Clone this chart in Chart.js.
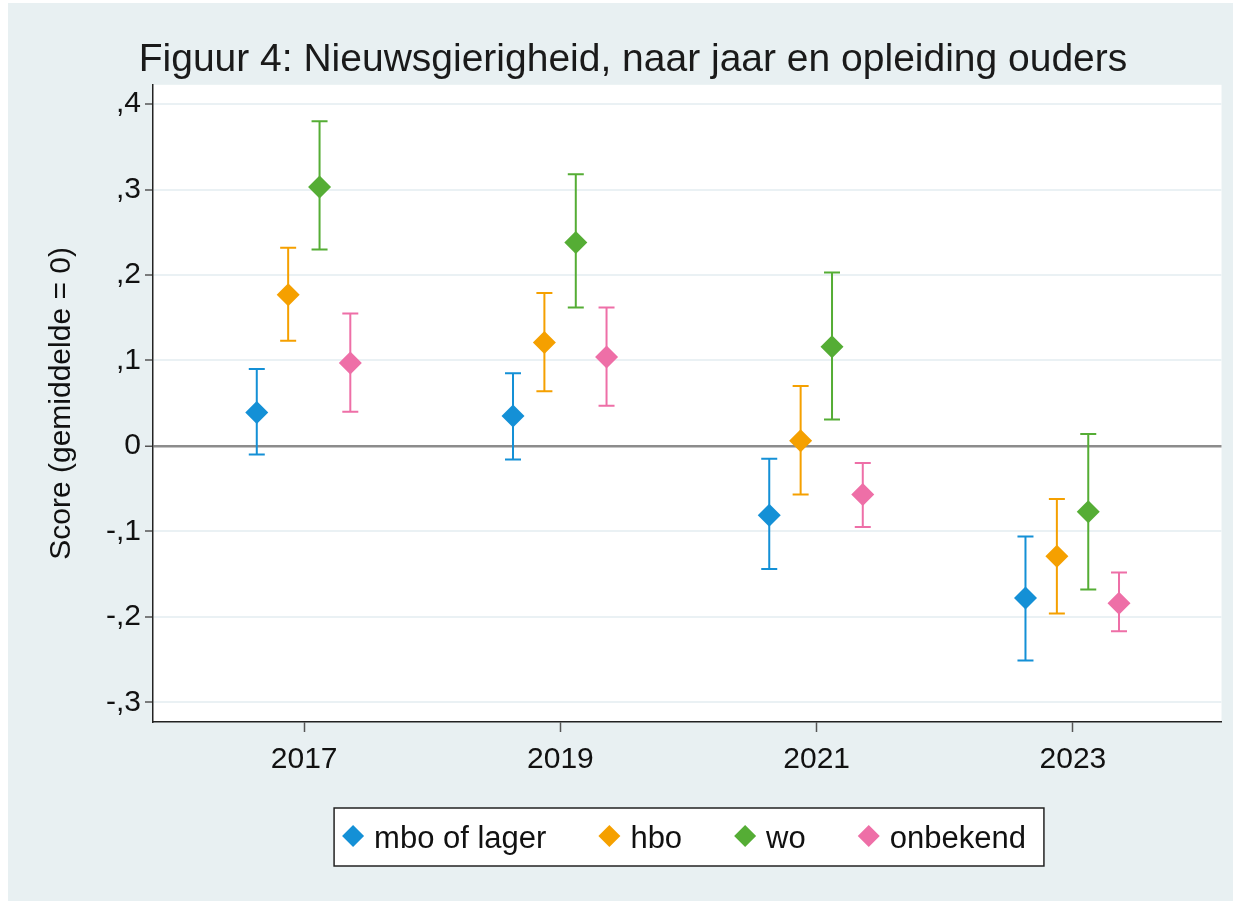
<!DOCTYPE html>
<html lang="nl">
<head>
<meta charset="UTF-8">
<title>Figuur 4: Nieuwsgierigheid, naar jaar en opleiding ouders</title>
<style>
    body {
        margin: 0;
        padding: 0;
        background: #ffffff;
    }
    .frame {
        position: absolute;
        left: 8px;
        top: 3px;
        width: 1225px;
        height: 898px;
        background: #e8f0f2;
    }
</style>
</head>
<body>
<div class="frame">
    <canvas id="chart"></canvas>
</div>

<script src="https://cdn.jsdelivr.net/npm/chart.js"></script>
<script>
    // years on the x axis
    var years = [2017, 2019, 2021, 2023];
    var groups = ["mbo of lager", "hbo", "wo", "onbekend"];

    // mean score per group, with lower and upper bound of the interval
    var mboMean = [0.039, 0.035, -0.081, -0.178];
    var mboLow  = [-0.010, -0.016, -0.144, -0.251];
    var mboHigh = [0.090, 0.085, -0.015, -0.106];

    var hboMean = [0.177, 0.121, 0.006, -0.129];
    var hboLow  = [0.123, 0.064, -0.057, -0.196];
    var hboHigh = [0.232, 0.179, 0.070, -0.062];

    var woMean = [0.303, 0.238, 0.116, -0.077];
    var woLow  = [0.230, 0.162, 0.031, -0.168];
    var woHigh = [0.380, 0.318, 0.203, 0.014];

    var onbMean = [0.097, 0.104, -0.057, -0.184];
    var onbLow  = [0.040, 0.047, -0.095, -0.217];
    var onbHigh = [0.155, 0.162, -0.020, -0.148];

    // axis ticks
    var yTickValues = [-0.3, -0.2, -0.1, 0, 0.1, 0.2, 0.3, 0.4];
    var yTickLabels = ["-,3", "-,2", "-,1", "0", ",1", ",2", ",3", ",4"];
    var xTickValues = years;

    var FONT = "Arial, 'Liberation Sans', sans-serif";
    var colors = ['#1490d6', '#f5a000', '#55ad35', '#ee6fa7'];
    var dodge = [-0.37, -0.125, 0.12, 0.36]; // side-by-side shift per group

    function points(mean, low, high, shift) {
        return years.map(function (yr, i) {
            return { x: yr + shift, y: mean[i], lo: low[i], hi: high[i] };
        });
    }

    var series = [
        [mboMean, mboLow, mboHigh],
        [hboMean, hboLow, hboHigh],
        [woMean, woLow, woHigh],
        [onbMean, onbLow, onbHigh]
    ];

    var datasets = series.map(function (s, i) {
        return {
            label: groups[i],
            data: points(s[0], s[1], s[2], dodge[i]),
            backgroundColor: colors[i],
            borderColor: colors[i],
            borderWidth: 0,
            pointStyle: 'rectRot',
            pointRadius: 11.5,
            pointHoverRadius: 11.5,
            showLine: false
        };
    });

    // white plot region
    var plotBackground = {
        id: 'plotBackground',
        beforeDraw: function (chart) {
            var a = chart.chartArea;
            var ctx = chart.ctx;
            ctx.save();
            ctx.fillStyle = '#ffffff';
            ctx.fillRect(a.left, a.top, a.right - a.left, a.bottom - a.top);
            ctx.restore();
        }
    };

    // confidence intervals, drawn under the markers
    var errorBars = {
        id: 'errorBars',
        beforeDatasetsDraw: function (chart) {
            var ctx = chart.ctx;
            var xs = chart.scales.x, ys = chart.scales.y;
            ctx.save();
            ctx.lineWidth = 2;
            chart.data.datasets.forEach(function (ds) {
                ctx.strokeStyle = ds.borderColor;
                ds.data.forEach(function (p) {
                    var px = xs.getPixelForValue(p.x);
                    var yl = ys.getPixelForValue(p.lo);
                    var yh = ys.getPixelForValue(p.hi);
                    ctx.beginPath();
                    ctx.moveTo(px, yl);
                    ctx.lineTo(px, yh);
                    ctx.moveTo(px - 8, yl);
                    ctx.lineTo(px + 8, yl);
                    ctx.moveTo(px - 8, yh);
                    ctx.lineTo(px + 8, yh);
                    ctx.stroke();
                });
            });
            ctx.restore();
        }
    };

    // boxed legend under the plot
    var boxLegend = {
        id: 'boxLegend',
        afterDraw: function (chart) {
            var ctx = chart.ctx;
            var dsets = chart.data.datasets;
            ctx.save();
            ctx.font = '31px ' + FONT;
            var r = 11, textGap = 21, itemGap = 63, padL = 8, padR = 18;
            var widths = dsets.map(function (d) { return ctx.measureText(d.label).width; });
            var total = 0;
            widths.forEach(function (w, i) {
                total += r + textGap + w;
                if (i < widths.length - 1) total += itemGap - r;
            });
            var boxW = total + padL + padR;
            var boxL = 681 - boxW / 2;
            var cy = 833;
            ctx.fillStyle = '#ffffff';
            ctx.fillRect(boxL, 805, boxW, 58);
            ctx.strokeStyle = '#222222';
            ctx.lineWidth = 1.5;
            ctx.strokeRect(boxL, 805, boxW, 58);

            var cur = boxL + padL;
            ctx.textBaseline = 'middle';
            dsets.forEach(function (d, i) {
                var mx = cur + r;
                ctx.fillStyle = d.backgroundColor;
                ctx.beginPath();
                ctx.moveTo(mx, cy - r);
                ctx.lineTo(mx + r, cy);
                ctx.lineTo(mx, cy + r);
                ctx.lineTo(mx - r, cy);
                ctx.closePath();
                ctx.fill();
                ctx.fillStyle = '#111111';
                ctx.fillText(d.label, cur + r + textGap, cy + 3);
                cur += r + textGap + widths[i] + itemGap - r;
            });
            ctx.restore();
        }
    };

    var ctx = document.getElementById('chart').getContext('2d');
    var chart = new Chart(ctx, {
        type: 'scatter',
        data: { datasets: datasets },
        options: {
            responsive: true,
            maintainAspectRatio: false,
            animation: false,
            layout: { padding: { left: 34, right: 9, top: 0, bottom: 0 } },
            plugins: {
                legend: { display: false },
                tooltip: { enabled: false },
                title: {
                    display: true,
                    text: 'Figuur 4: Nieuwsgierigheid, naar jaar en opleiding ouders',
                    color: '#1a1a1a',
                    font: { family: FONT, size: 39, weight: 'normal' },
                    padding: { top: 34, bottom: 1 }
                }
            },
            scales: {
                x: {
                    type: 'linear',
                    min: 2015.82,
                    max: 2024.16,
                    afterBuildTicks: function (scale) {
                        scale.ticks = xTickValues.map(function (v) { return { value: v }; });
                    },
                    afterFit: function (scale) { scale.height = 179; },
                    border: { color: '#222222', width: 1.5 },
                    grid: {
                        drawOnChartArea: false,
                        drawTicks: true,
                        tickLength: 10,
                        tickColor: '#555555',
                        tickWidth: 1.5
                    },
                    ticks: {
                        color: '#111111',
                        font: { family: FONT, size: 30 },
                        padding: 10,
                        maxRotation: 0,
                        callback: function (v) { return String(v); }
                    }
                },
                y: {
                    type: 'linear',
                    min: -0.3231,
                    max: 0.4226,
                    afterBuildTicks: function (scale) {
                        scale.ticks = yTickValues.map(function (v) { return { value: v }; });
                    },
                    afterFit: function (scale) { scale.width = 111; },
                    border: { color: '#222222', width: 1.5 },
                    grid: {
                        color: function (c) {
                            return (c.tick && Math.abs(c.tick.value) < 1e-9) ? '#8c8c8c' : '#eaf1f4';
                        },
                        lineWidth: function (c) {
                            return (c.tick && Math.abs(c.tick.value) < 1e-9) ? 2.5 : 2;
                        },
                        drawTicks: true,
                        tickLength: 8,
                        tickColor: '#555555',
                        tickWidth: 1.5
                    },
                    ticks: {
                        color: '#111111',
                        font: { family: FONT, size: 30 },
                        padding: 4,
                        callback: function (v) {
                            var i = yTickValues.findIndex(function (t) { return Math.abs(t - v) < 1e-9; });
                            return i >= 0 ? yTickLabels[i] : '';
                        }
                    },
                    title: {
                        display: true,
                        text: 'Score (gemiddelde = 0)',
                        color: '#111111',
                        font: { family: FONT, size: 30 },
                        padding: { top: 2, bottom: 0 }
                    }
                }
            }
        },
        plugins: [plotBackground, errorBars, boxLegend]
    });
</script>
</body>
</html>
